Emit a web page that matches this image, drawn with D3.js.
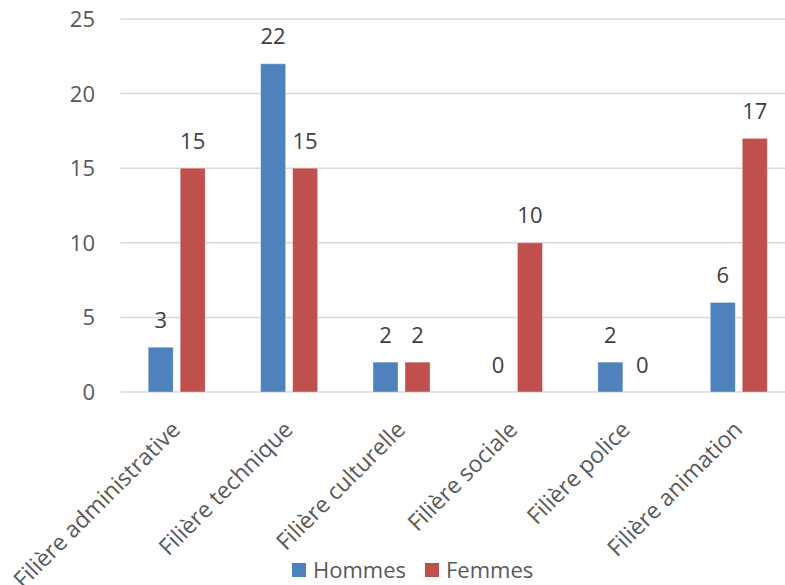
<!DOCTYPE html>
<html>
<head>
<meta charset="utf-8">
<script src="https://cdn.jsdelivr.net/npm/d3@7"></script>
<style>
  html, body { margin: 0; padding: 0; background: #fff; }
  svg { display: block; font-family: "Open Sans", "Liberation Sans", sans-serif; }
</style>
</head>
<body>
<div id="chart"></div>
<script>
const categories = ["Filière administrative", "Filière technique", "Filière culturelle", "Filière sociale", "Filière police", "Filière animation"];
const seriesNames = ["Hommes", "Femmes"];
const hommes = [3, 22, 2, 0, 2, 6];
const femmes = [15, 15, 2, 10, 0, 17];
const yTicks = [0, 5, 10, 15, 20, 25];
const colors = ["#4F81BD", "#C0504D"];

const W = 785, H = 585;
const svg = d3.select("#chart").append("svg").attr("width", W).attr("height", H);

const plot = { left: 120.5, right: 795, top: 19, bottom: 392 };

const x0 = d3.scaleBand().domain(categories).range([plot.left, plot.right]).padding(0);
const x1 = d3.scaleBand().domain(seriesNames).range([-28.5, 28.5]).paddingInner(7 / 32).paddingOuter(0);
const y = d3.scaleLinear().domain([0, 25]).range([plot.bottom, plot.top]);

// gridlines
svg.append("g").selectAll("line").data(yTicks).join("line")
  .attr("x1", plot.left).attr("x2", plot.right)
  .attr("y1", d => y(d)).attr("y2", d => y(d))
  .attr("stroke", "#d9d9d9").attr("stroke-width", 1.5);

// y tick labels
svg.append("g").selectAll("text").data(yTicks).join("text")
  .attr("x", 95).attr("y", d => y(d))
  .attr("dy", "0.36em")
  .attr("text-anchor", "end")
  .attr("font-size", 22).attr("fill", "#595959")
  .text(d => d);

const data = [];
categories.forEach((c, i) => {
  data.push({ cat: c, s: "Hommes", v: hommes[i], color: colors[0] });
  data.push({ cat: c, s: "Femmes", v: femmes[i], color: colors[1] });
});

const cx = d => x0(d.cat) + x0.bandwidth() / 2 + x1(d.s);

svg.append("g").selectAll("rect").data(data.filter(d => d.v > 0)).join("rect")
  .attr("x", d => cx(d)).attr("width", x1.bandwidth())
  .attr("y", d => y(d.v)).attr("height", d => y(0) - y(d.v))
  .attr("fill", d => d.color)
  .attr("stroke", "rgba(255,255,255,0.35)").attr("stroke-width", 1);

// value labels
svg.append("g").selectAll("text").data(data).join("text")
  .attr("x", d => cx(d) + x1.bandwidth() / 2)
  .attr("y", d => y(d.v) - 19.5)
  .attr("text-anchor", "middle")
  .attr("font-size", 22).attr("fill", "#404040")
  .text(d => d.v);

// category labels rotated
svg.append("g").selectAll("text").data(categories).join("text")
  .attr("transform", d => `translate(${x0(d) + x0.bandwidth() / 2 + 5},${plot.bottom + 39}) rotate(-45)`)
  .attr("text-anchor", "end")
  .attr("font-size", 23).attr("fill", "#595959")
  .text(d => d);

// legend
const legend = svg.append("g");
const legendItems = [
  { name: seriesNames[0], color: colors[0], x: 292, tx: 313 },
  { name: seriesNames[1], color: colors[1], x: 425, tx: 446 }
];
legend.selectAll("rect").data(legendItems).join("rect")
  .attr("x", d => d.x).attr("y", 563).attr("width", 14).attr("height", 14)
  .attr("fill", d => d.color);
legend.selectAll("text").data(legendItems).join("text")
  .attr("x", d => d.tx).attr("y", 578)
  .attr("font-size", 22).attr("fill", "#595959")
  .text(d => d.name);
</script>
</body>
</html>
